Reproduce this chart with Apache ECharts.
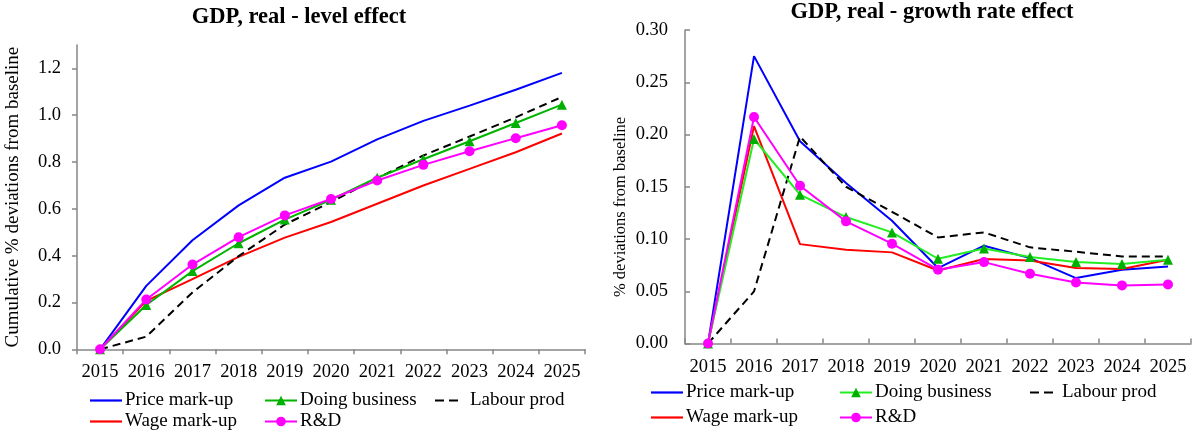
<!DOCTYPE html>
<html><head><meta charset="utf-8">
<script src="https://cdn.jsdelivr.net/npm/echarts@6/dist/echarts.min.js"></script>
<style>html,body{margin:0;padding:0;background:#fff}#c{width:1198px;height:434px}</style>
</head><body><div id="c"></div>
<script>
const years = ['2015','2016','2017','2018','2019','2020','2021','2022','2023','2024','2025'];
const seriesNames = ['Price mark-up','Wage mark-up','Doing business','R&D','Labour prod'];
const levelTicks = [0, 0.2, 0.4, 0.6, 0.8, 1.0, 1.2];
const growthTicks = [0, 0.05, 0.10, 0.15, 0.20, 0.25, 0.30];

const levelPrice   = [0, 0.271, 0.466, 0.615, 0.733, 0.802, 0.897, 0.976, 1.041, 1.109, 1.181];
const levelWage    = [0, 0.207, 0.300, 0.395, 0.477, 0.544, 0.622, 0.700, 0.771, 0.842, 0.922];
const levelDoing   = [0, 0.189, 0.334, 0.453, 0.554, 0.639, 0.733, 0.812, 0.889, 0.967, 1.045];
const levelRD      = [0, 0.213, 0.362, 0.479, 0.572, 0.642, 0.721, 0.788, 0.846, 0.902, 0.957];
const levelLabour  = [0, 0.054, 0.243, 0.398, 0.533, 0.629, 0.731, 0.828, 0.909, 0.991, 1.078];

const growthPrice  = [0, 0.275, 0.1935, 0.1536, 0.1175, 0.0722, 0.0936, 0.0817, 0.0626, 0.0706, 0.0738];
const growthWage   = [0, 0.208, 0.0951, 0.0897, 0.0872, 0.0699, 0.0808, 0.0795, 0.0722, 0.0712, 0.0801];
const growthDoing  = [0, 0.1957, 0.1424, 0.1210, 0.1063, 0.0811, 0.0910, 0.0827, 0.0779, 0.0760, 0.0801];
const growthRD     = [0, 0.2168, 0.1510, 0.1169, 0.0955, 0.0706, 0.0779, 0.0667, 0.0584, 0.0556, 0.0565];
const growthLabour = [0, 0.0498, 0.1980, 0.1500, 0.1260, 0.1015, 0.1063, 0.0920, 0.0878, 0.0833, 0.0833];

const FONT = '"Liberation Serif", "Times New Roman", serif';
const AX = '#868686';
const C = {blue:'#0000FF', red:'#FF0000', greenL:'#00B400', greenR:'#22EE22', greenM:'#00B000', pink:'#FF00FF', black:'#000000'};
const DASH_ICON = 'path://M0,0h9v2h-9zM14,0h9v2h-9z';

function mkSeries(idx, vals, greenLine) {
  const base = {type:'line', xAxisIndex:idx, yAxisIndex:idx, animation:false, smooth:false};
  return [
    Object.assign({}, base, {name:seriesNames[0], data:vals[0], symbol:'none', lineStyle:{color:C.blue, width:2}, itemStyle:{color:C.blue}}),
    Object.assign({}, base, {name:seriesNames[1], data:vals[1], symbol:'none', lineStyle:{color:C.red, width:2}, itemStyle:{color:C.red}}),
    Object.assign({}, base, {name:seriesNames[4], data:vals[4], symbol:'none', lineStyle:{color:C.black, width:2, type:[8,5]}, itemStyle:{color:C.black}}),
    Object.assign({}, base, {name:seriesNames[2], data:vals[2], symbol:'triangle', symbolSize:10, lineStyle:{color:greenLine, width:2}, itemStyle:{color:C.greenM}}),
    Object.assign({}, base, {name:seriesNames[3], data:vals[3], symbol:'circle', symbolSize:10, lineStyle:{color:C.pink, width:2}, itemStyle:{color:C.pink}})
  ];
}

function mkLegend(name, left, top, greenLine, labourPad) {
  const d = {name:name};
  let w = 32, h = 12, tp = [0,0,0,-2];
  if (name === 'Doing business') { d.lineStyle = {color:greenLine}; d.itemStyle = {color:C.greenM}; }
  if (name === 'Price mark-up') { d.icon = 'rect'; d.itemStyle = {color:C.blue}; h = 2.2; }
  if (name === 'Wage mark-up') { d.icon = 'rect'; d.itemStyle = {color:C.red}; h = 2.2; }
  if (name === 'Labour prod') { d.icon = DASH_ICON; d.itemStyle = {color:C.black}; w = 23; h = 2.2; tp = [0,0,0,labourPad]; }
  return {data:[d], left:left, top:top, padding:0, itemWidth:w, itemHeight:h, itemGap:5,
    selectedMode:false, textStyle:{fontFamily:FONT, fontSize:19, color:'#000', padding:tp}};
}

const option = {
  backgroundColor:'#fff',
  animation:false,
  title:[
    {text:'GDP, real - level effect', left:299, top:6, padding:0, textAlign:'center',
     textStyle:{fontFamily:FONT, fontSize:22.5, fontWeight:'bold', color:'#000'}},
    {text:'GDP, real - growth rate effect', left:932, top:1, padding:0, textAlign:'center',
     textStyle:{fontFamily:FONT, fontSize:22.5, fontWeight:'bold', color:'#000'}}
  ],
  grid:[
    {left:77, top:45, width:508, height:304.3},
    {left:685, top:30, width:506, height:313.5}
  ],
  xAxis:[
    {gridIndex:0, type:'category', data:years, boundaryGap:true,
     axisLine:{lineStyle:{color:AX, width:1.5}},
     axisTick:{show:true, inside:false, length:5, lineStyle:{color:AX, width:1.5}},
     axisLabel:{color:'#000', fontFamily:FONT, fontSize:18.5, margin:13, interval:0},
     splitLine:{show:false}},
    {gridIndex:1, type:'category', data:years, boundaryGap:true,
     axisLine:{lineStyle:{color:AX, width:1.5}},
     axisTick:{show:true, inside:true, length:5, lineStyle:{color:AX, width:1.5}},
     axisLabel:{color:'#000', fontFamily:FONT, fontSize:18.5, margin:14, interval:0},
     splitLine:{show:false}}
  ],
  yAxis:[
    {gridIndex:0, type:'value', min:0, max:1.3, interval:0.1,
     name:'Cumulative % deviations from baseline', nameLocation:'middle', nameGap:54, nameRotate:90,
     nameTextStyle:{fontFamily:FONT, fontSize:19, color:'#000'},
     axisLine:{show:true, lineStyle:{color:AX, width:1.5}},
     axisTick:{show:true, inside:false, length:5, customValues:levelTicks, lineStyle:{color:AX, width:1.5}},
     axisLabel:{color:'#000', fontFamily:FONT, fontSize:18.5, margin:16, customValues:levelTicks,
       formatter:function(v){return v.toFixed(1);}},
     splitLine:{show:false}},
    {gridIndex:1, type:'value', min:0, max:0.3, interval:0.05,
     axisLine:{show:true, lineStyle:{color:AX, width:1.5}},
     axisTick:{show:true, inside:true, length:5, customValues:growthTicks, lineStyle:{color:AX, width:1.5}},
     axisLabel:{color:'#000', fontFamily:FONT, fontSize:18.5, margin:17, customValues:growthTicks,
       formatter:function(v){return v.toFixed(2);}},
     splitLine:{show:false}}
  ],
  graphic:[
    {type:'text', x:621, y:207, rotation:Math.PI/2, silent:true,
     style:{text:'% deviations from baseline', fontFamily:FONT, fontSize:16.5, fill:'#000', align:'center', verticalAlign:'middle'}}
  ],
  legend:[
    mkLegend('Price mark-up', 90, 391, C.greenL),
    mkLegend('Doing business', 264, 391, C.greenL),
    mkLegend('Labour prod', 435, 391, C.greenL, 7),
    mkLegend('Wage mark-up', 90, 412, C.greenL),
    mkLegend('R&D', 264, 412, C.greenL),
    mkLegend('Price mark-up', 651, 383, C.greenR),
    mkLegend('Doing business', 839, 383, C.greenR),
    mkLegend('Labour prod', 1030, 383, C.greenR, 4),
    mkLegend('Wage mark-up', 651, 408, C.greenR),
    mkLegend('R&D', 839, 408, C.greenR)
  ],
  series: mkSeries(0, [levelPrice, levelWage, levelDoing, levelRD, levelLabour], C.greenL)
    .concat(mkSeries(1, [growthPrice, growthWage, growthDoing, growthRD, growthLabour], C.greenR))
};

const chart = echarts.init(document.getElementById('c'), null, {renderer:'canvas'});
chart.setOption(option);
</script>
</body></html>
